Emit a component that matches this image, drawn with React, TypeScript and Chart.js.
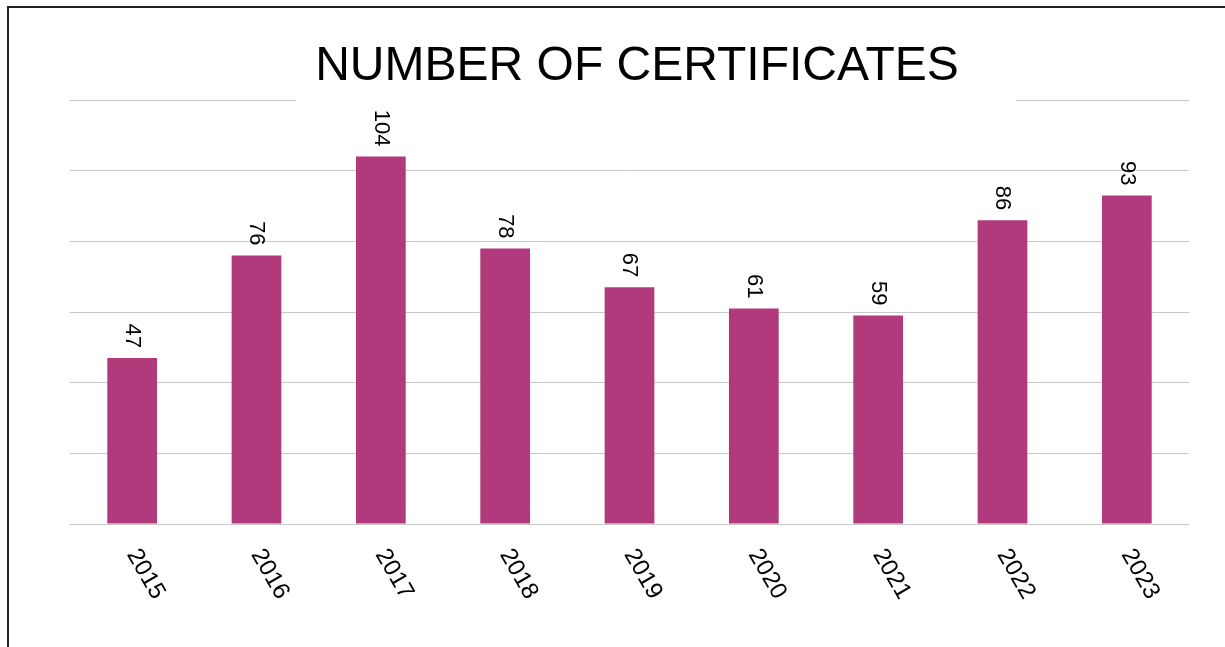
import React, { useEffect, useRef } from "react";
import { Chart, registerables } from "chart.js";

Chart.register(...registerables);

const TITLE = "NUMBER OF CERTIFICATES";
const YEARS = ["2015", "2016", "2017", "2018", "2019", "2020", "2021", "2022", "2023"];
const CERTIFICATES = [47, 76, 104, 78, 67, 61, 59, 86, 93];
const Y_MIN = 0;
const Y_MAX = 120;
const Y_STEP = 20;

const BAR_COLOR = "#B03A7C";
const FONT = "'Liberation Sans', Arial, sans-serif";

const decorPlugin = {
  id: "decor",
  afterDraw(chart: any) {
    const { ctx, chartArea } = chart;
    const xScale = chart.scales.x;
    const yScale = chart.scales.y;
    ctx.save();
    // Title with white backing box that hides part of the top gridline
    ctx.font = `48px ${FONT}`;
    const tw = ctx.measureText(TITLE).width;
    const cx = 637;
    const left = cx - tw / 2;
    const right = cx + tw / 2;
    ctx.fillStyle = "#ffffff";
    ctx.fillRect(left - 19, chartArea.top - 8, tw + 19 + 57, 16);
    ctx.fillStyle = "#000000";
    ctx.textAlign = "left";
    ctx.textBaseline = "alphabetic";
    ctx.fillText(TITLE, left, 80);

    // Data labels rotated 90° clockwise above each bar
    const meta = chart.getDatasetMeta(0);
    ctx.font = `22px ${FONT}`;
    ctx.fillStyle = "#000000";
    meta.data.forEach((bar: any, i: number) => {
      ctx.save();
      ctx.translate(bar.x, bar.y - 10);
      ctx.rotate(Math.PI / 2);
      ctx.textAlign = "right";
      ctx.textBaseline = "middle";
      ctx.fillText(String(CERTIFICATES[i]), 0, 0);
      ctx.restore();
    });

    // X labels rotated 60° clockwise
    ctx.font = `24px ${FONT}`;
    YEARS.forEach((label, i) => {
      const x = xScale.getPixelForValue(i);
      const y = yScale.getPixelForValue(0) + 27;
      ctx.save();
      ctx.translate(x, y);
      ctx.rotate((60 * Math.PI) / 180);
      ctx.textAlign = "left";
      ctx.textBaseline = "middle";
      ctx.fillText(label, 0, 0);
      ctx.restore();
    });
    ctx.restore();
  },
};

export default function App() {
  const canvasRef = useRef<HTMLCanvasElement | null>(null);

  useEffect(() => {
    if (!canvasRef.current) return;
    const chart = new Chart(canvasRef.current, {
      type: "bar",
      data: {
        labels: YEARS,
        datasets: [
          {
            label: "Certificates",
            data: CERTIFICATES,
            backgroundColor: BAR_COLOR,
            borderColor: "rgba(230,200,220,0.9)",
            borderWidth: 0,
            barPercentage: 0.4,
            categoryPercentage: 1,
          },
        ],
      },
      options: {
        animation: false,
        responsive: true,
        maintainAspectRatio: false,
        layout: { padding: { left: 70, right: 36, top: 100, bottom: 123 } },
        plugins: {
          legend: { display: false },
          title: { display: false },
          tooltip: { enabled: false },
        },
        scales: {
          x: {
            grid: { display: false },
            border: { display: false },
            ticks: { display: false },
            afterFit: (s: any) => {
              s.height = 0;
            },
          },
          y: {
            min: Y_MIN,
            max: Y_MAX,
            ticks: { display: false, stepSize: Y_STEP },
            grid: { color: "#c8c8c8", lineWidth: 1, drawTicks: false },
            border: { display: false },
            afterFit: (s: any) => {
              s.width = 0;
            },
          },
        },
      },
      plugins: [decorPlugin],
    });
    return () => chart.destroy();
  }, []);

  return (
    <div
      style={{
        position: "fixed",
        left: 0,
        top: 0,
        width: 1225,
        height: 647,
        background: "#ffffff",
      }}
    >
      <canvas ref={canvasRef} />
      <div
        style={{
          position: "absolute",
          left: 7,
          top: 6,
          width: 1240,
          height: 660,
          borderLeft: "2px solid #222",
          borderTop: "2px solid #222",
          pointerEvents: "none",
        }}
      />
    </div>
  );
}
